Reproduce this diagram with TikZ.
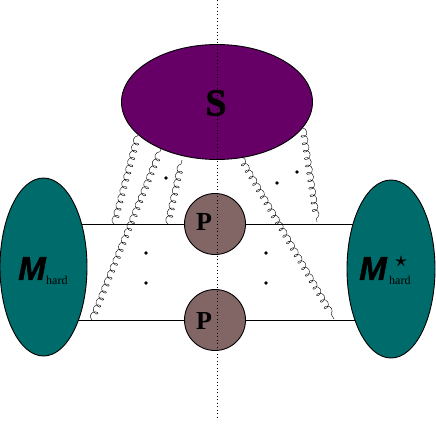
\documentclass[tikz,border=0pt]{standalone}
\usepackage{amsfonts, amssymb,amsmath}
\usepackage{xcolor}
\usepackage{fontspec}
\setmainfont{Liberation Serif}
\newfontfamily\hardfont{Liberation Sans}
\usepackage{tikz}
\usetikzlibrary{decorations.pathmorphing,shapes.geometric}
\definecolor{softpurple}{HTML}{660066}
\definecolor{hardteal}{HTML}{006B6B}
\definecolor{pbrown}{HTML}{826666}
\tikzset{
softblob/.style={ellipse,draw,line width=0.9pt,fill=softpurple,minimum width=191pt,minimum height=115pt,inner sep=0pt},
hardblob/.style={ellipse,draw,line width=0.9pt,fill=hardteal,minimum width=87pt,minimum height=178pt,inner sep=0pt},
pblob/.style={circle,draw,line width=0.9pt,fill=pbrown,minimum size=61pt,inner sep=0pt},
gluon/.style={line width=0.4pt,decorate,decoration={coil,aspect=0.8,amplitude=3.2pt,segment length=7.5pt}},
spot/.style={circle,fill=black,minimum size=3.6pt,inner sep=0pt},
plabel/.style={font=\bfseries\fontsize{26}{26}\selectfont,inner sep=0pt},
mlabel/.style={font=\hardfont\bfseries\itshape\addfontfeature{FakeBold=1.5}\fontsize{33}{33}\selectfont,inner sep=0pt},
sublabel/.style={font=\fontsize{12}{12}\selectfont,inner sep=0pt}
}
\begin{document}
\begin{tikzpicture}[x=1pt,y=-1pt]
\useasboundingbox(0,0)rectangle(436,423);
\coordinate(top)at(217,0);
\coordinate(bot)at(217,420);
% quark lines go under the blobs
\coordinate(la)at(60,224);
\coordinate(lb)at(60,320);
\coordinate(ra)at(375,224);
\coordinate(rb)at(375,320);
\node[pblob](pa)at(215,224){};
\node[pblob](pb)at(215,320){};
\draw[line width=0.9pt](la)--(pa);
\draw[line width=0.9pt](lb)--(pb);
\draw[line width=0.9pt](pa)--(ra);
\draw[line width=0.9pt](pb)--(rb);
\node[hardblob](ml)at(43.5,267){};
\node[hardblob,minimum width=88pt](mr)at(391,269){};
\node[softblob](s)at(217,102){};
\node[font=\bfseries\addfontfeature{FakeBold=1.5}\fontsize{38}{38}\selectfont,inner sep=0pt](slabel)at(216,103){S};
\node[plabel](pla)at(204,222){P};
\node[plabel](plb)at(204,321){P};
\node[mlabel](mll)at(32,268.5){M};
\node[sublabel,anchor=base west](mls)at(46,284){hard};
\node[mlabel](mrl)at(373,268.5){M};
\node[sublabel,anchor=base west](mrs)at(389,284){hard};
\node[inner sep=0pt,font=\fontsize{20}{20}\selectfont](mrstar)at(401,262){$\boldsymbol{\star}$};
\draw[dash pattern=on 0.9pt off 2.6pt,line width=0.7pt](top)--(bot);
% gluons
\coordinate(g1a)at(114,224);
\coordinate(g1b)at(138,135);
\coordinate(g2a)at(92,320);
\coordinate(g2b)at(161,149);
\coordinate(g3a)at(168,224);
\coordinate(g3b)at(182,160);
\coordinate(g4a)at(240,157);
\coordinate(g4b)at(334,319);
\coordinate(g5a)at(303,128);
\coordinate(g5b)at(317,222);
\draw[gluon](g1a)--(g1b);
\draw[gluon](g2a)--(g2b);
\draw[gluon](g3a)--(g3b);
\draw[gluon](g4a)--(g4b);
\draw[gluon](g5a)--(g5b);
\foreach \x/\y/\n in {166/178/a,146/253/b,146/283/c,277/183/d,297/172/e,266/253/f,266/283/g}
  \node[spot](dot\n)at(\x,\y){};
\end{tikzpicture}
\end{document}
